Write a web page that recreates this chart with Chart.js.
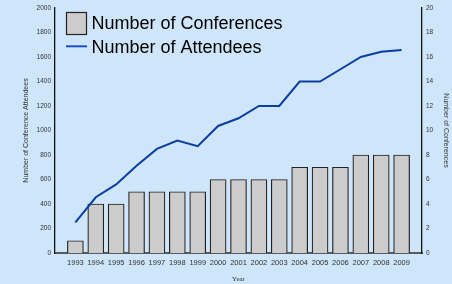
<!DOCTYPE html>
<html>
<head>
<meta charset="utf-8">
<script src="https://cdn.jsdelivr.net/npm/chart.js@4/dist/chart.umd.min.js"></script>
<style>
html,body{margin:0;padding:0;background:#cee5fa;}
canvas{display:block;}
</style>
</head>
<body>
<canvas id="c" width="452" height="284"></canvas>
<script>
const years = [1993,1994,1995,1996,1997,1998,1999,2000,2001,2002,2003,2004,2005,2006,2007,2008,2009];
const conferences = [1,4,4,5,5,5,5,6,6,6,6,7,7,7,8,8,8];
const attendees = [250,455,560,712,850,918,872,1037,1100,1200,1200,1400,1400,1500,1600,1643,1657];
const attendeeTicks = [0,200,400,600,800,1000,1200,1400,1600,1800,2000];
const conferenceTicks = [0,2,4,6,8,10,12,14,16,18,20];

const BG = '#cee5fa';
const LINE = '#0a3fa0';
const BAR = '#cccccc';

const bgPlugin = {
  id: 'bg',
  beforeDraw(chart) {
    const ctx = chart.ctx;
    ctx.save();
    ctx.fillStyle = BG;
    ctx.fillRect(0, 0, chart.width, chart.height);
    ctx.restore();
  }
};

const legendPlugin = {
  id: 'insideLegend',
  afterDraw(chart) {
    const ctx = chart.ctx;
    const ds = chart.data.datasets;
    ctx.save();
    ctx.fillStyle = BAR;
    ctx.strokeStyle = '#222';
    ctx.lineWidth = 1.2;
    ctx.fillRect(66.5, 12.5, 20, 22);
    ctx.strokeRect(66.5, 12.5, 20, 22);
    ctx.strokeStyle = '#1d4fc4';
    ctx.lineWidth = 2;
    ctx.beginPath();
    ctx.moveTo(66, 46.3);
    ctx.lineTo(87, 46.3);
    ctx.stroke();
    ctx.fillStyle = '#000';
    ctx.font = '18px "Liberation Sans", Arial, sans-serif';
    ctx.textBaseline = 'alphabetic';
    ctx.textAlign = 'left';
    ctx.fillText(ds[1].label, 91.5, 28.8);
    ctx.fillText(ds[0].label, 91.5, 52.8);
    ctx.restore();
  }
};

const tickFont = { family: '"Liberation Sans", Arial, sans-serif', size: 6.5 };

new Chart(document.getElementById('c'), {
  data: {
    datasets: [
      {
        type: 'line',
        label: 'Number of Attendees',
        data: years.map((y, i) => ({x: y, y: attendees[i]})),
        borderColor: LINE,
        backgroundColor: LINE,
        borderWidth: 2,
        pointRadius: 0,
        tension: 0,
        yAxisID: 'y',
        order: 0
      },
      {
        type: 'bar',
        label: 'Number of Conferences',
        data: years.map((y, i) => ({x: y, y: conferences[i]})),
        backgroundColor: BAR,
        borderColor: '#222',
        borderWidth: 1.2,
        barThickness: 16,
        yAxisID: 'y1',
        order: 1
      }
    ]
  },
  plugins: [bgPlugin, legendPlugin],
  options: {
    responsive: false,
    animation: false,
    devicePixelRatio: 1,
    layout: { padding: { top: 8, left: 0, right: 0, bottom: 0 } },
    plugins: { legend: { display: false }, tooltip: { enabled: false } },
    scales: {
      x: {
        type: 'linear',
        offset: false,
        min: 1992,
        max: 2010,
        grid: { display: false, drawTicks: false, tickLength: 0 },
        border: { display: true, color: '#5a5a5a', width: 2 },
        ticks: {
          stepSize: 1,
          autoSkip: false,
          maxRotation: 0,
          padding: 5,
          color: '#333',
          font: { family: '"Liberation Sans", Arial, sans-serif', size: 7.5 },
          callback: v => (years.includes(v) ? String(v) : '')
        },
        title: {
          display: true,
          text: 'Year',
          color: '#333',
          font: { family: '"Liberation Serif", "Times New Roman", serif', size: 7 },
          padding: { top: 0, bottom: 1 }
        },
        afterFit(s) { s.height = 31; }
      },
      y: {
        type: 'linear',
        position: 'left',
        min: 0,
        max: 2000,
        grid: { display: false, drawTicks: false, tickLength: 0 },
        border: { display: true, color: '#111', width: 1.3 },
        afterBuildTicks(s) { s.ticks = attendeeTicks.map(v => ({value: v})); },
        ticks: {
          padding: 4,
          color: '#333',
          font: tickFont,
          callback: v => String(v)
        },
        title: {
          display: true,
          text: 'Number of Conference Attendees',
          color: '#333',
          font: { family: '"Liberation Sans", Arial, sans-serif', size: 7 },
          padding: { top: 22, bottom: 0 }
        },
        afterFit(s) { s.width = 55; }
      },
      y1: {
        type: 'linear',
        position: 'right',
        min: 0,
        max: 20,
        grid: { display: false, drawTicks: false, tickLength: 0 },
        border: { display: true, color: '#111', width: 1.3 },
        afterBuildTicks(s) { s.ticks = conferenceTicks.map(v => ({value: v})); },
        ticks: {
          padding: 4,
          color: '#333',
          font: tickFont,
          callback: v => String(v)
        },
        title: {
          display: true,
          text: 'Number of Conferences',
          color: '#333',
          font: { family: '"Liberation Sans", Arial, sans-serif', size: 7 },
          padding: { top: 2, bottom: 0 }
        },
        afterFit(s) { s.width = 30; }
      }
    }
  }
});
</script>
</body>
</html>
